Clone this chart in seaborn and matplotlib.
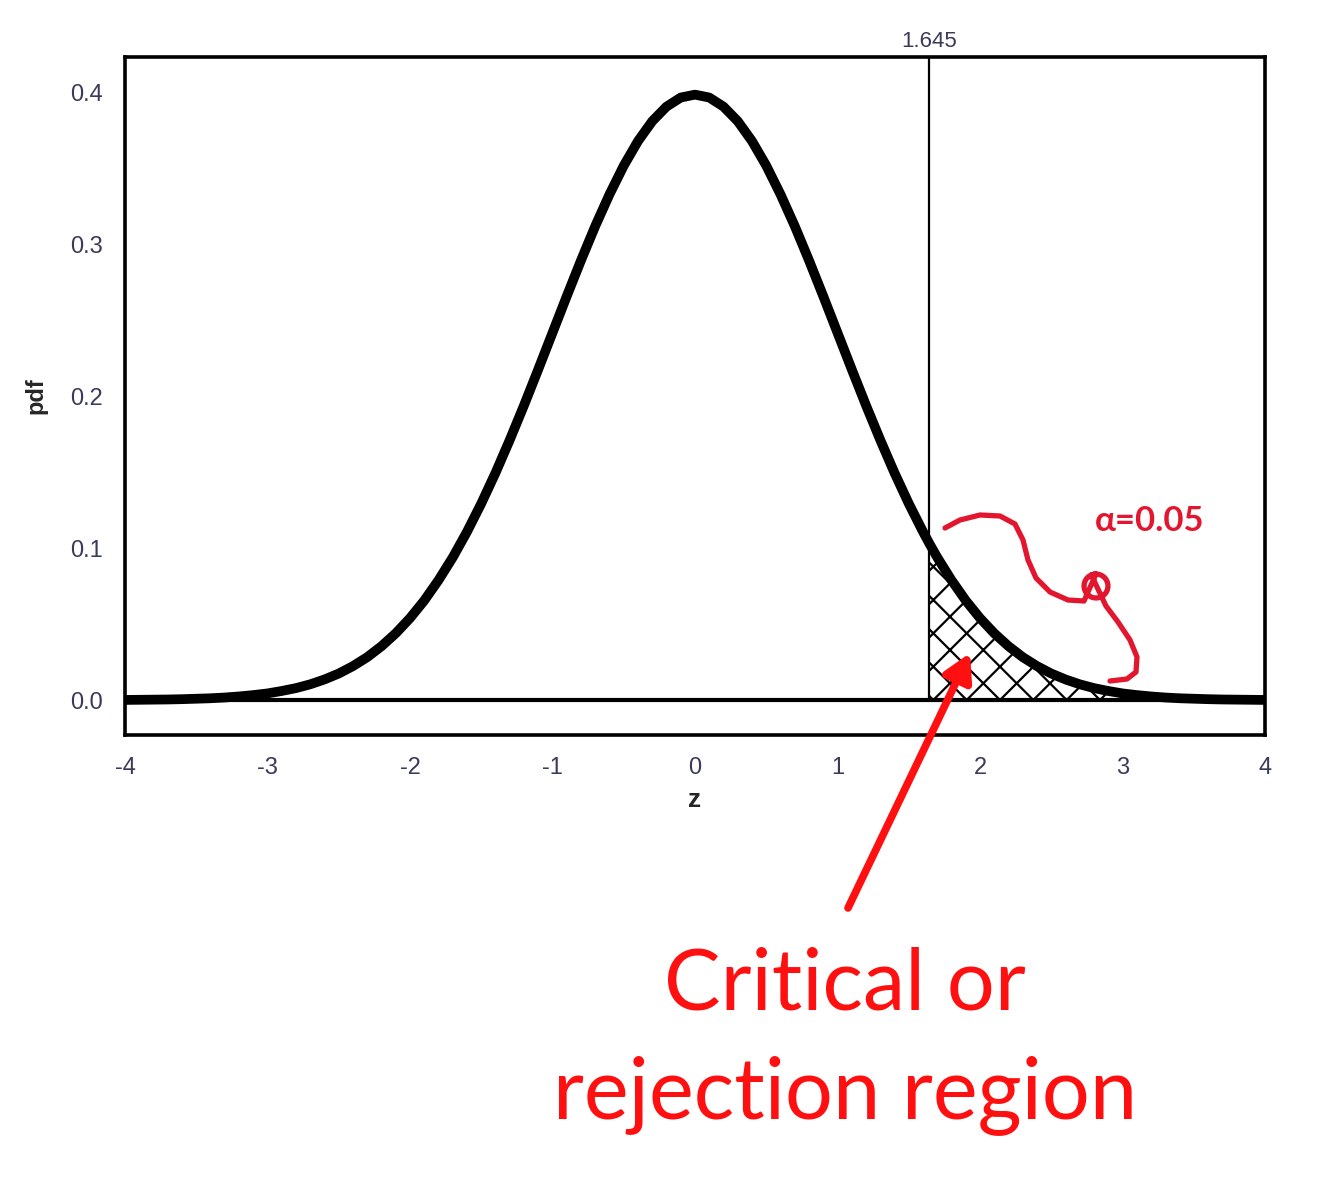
import matplotlib
matplotlib.use("Agg")
import matplotlib.pyplot as plt
import seaborn as sns
import pandas as pd
import numpy as np

# ---- data (standard normal pdf) ----
z_values = [-4.0, -3.9, -3.8, -3.7, -3.6, -3.5, -3.4, -3.3, -3.2, -3.1,
            -3.0, -2.9, -2.8, -2.7, -2.6, -2.5, -2.4, -2.3, -2.2, -2.1,
            -2.0, -1.9, -1.8, -1.7, -1.6, -1.5, -1.4, -1.3, -1.2, -1.1,
            -1.0, -0.9, -0.8, -0.7, -0.6, -0.5, -0.4, -0.3, -0.2, -0.1,
            0.0, 0.1, 0.2, 0.3, 0.4, 0.5, 0.6, 0.7, 0.8, 0.9,
            1.0, 1.1, 1.2, 1.3, 1.4, 1.5, 1.6, 1.645, 1.7, 1.8, 1.9,
            2.0, 2.1, 2.2, 2.3, 2.4, 2.5, 2.6, 2.7, 2.8, 2.9,
            3.0, 3.1, 3.2, 3.3, 3.4, 3.5, 3.6, 3.7, 3.8, 3.9, 4.0]
pdf_values = [0.0001, 0.0002, 0.0003, 0.0004, 0.0006, 0.0009, 0.0012, 0.0017, 0.0024, 0.0033,
              0.0044, 0.0060, 0.0079, 0.0104, 0.0136, 0.0175, 0.0224, 0.0283, 0.0355, 0.0440,
              0.0540, 0.0656, 0.0790, 0.0940, 0.1109, 0.1295, 0.1497, 0.1714, 0.1942, 0.2179,
              0.2420, 0.2661, 0.2897, 0.3123, 0.3332, 0.3521, 0.3683, 0.3814, 0.3910, 0.3970,
              0.3989, 0.3970, 0.3910, 0.3814, 0.3683, 0.3521, 0.3332, 0.3123, 0.2897, 0.2661,
              0.2420, 0.2179, 0.1942, 0.1714, 0.1497, 0.1295, 0.1109, 0.1031, 0.0940, 0.0790, 0.0656,
              0.0540, 0.0440, 0.0355, 0.0283, 0.0224, 0.0175, 0.0136, 0.0104, 0.0079, 0.0060,
              0.0044, 0.0033, 0.0024, 0.0017, 0.0012, 0.0009, 0.0006, 0.0004, 0.0003, 0.0002, 0.0001]
critical_z = 1.645
alpha_label = "α=0.05"
x_ticks = [-4, -3, -2, -1, 0, 1, 2, 3, 4]
y_ticks = [0.0, 0.1, 0.2, 0.3, 0.4]
y_tick_labels = ["0.0", "0.1", "0.2", "0.3", "0.4"]
annotation_lines = ["Critical or", "rejection region"]

df = pd.DataFrame({"z": z_values, "pdf": pdf_values})
tail = df[df["z"] >= critical_z]

sns.set_style("white")
plt.rcParams["font.family"] = ["Liberation Sans", "DejaVu Sans"]
plt.rcParams["hatch.linewidth"] = 1.6

W, H = 1319, 1200
fig = plt.figure(figsize=(W / 100, H / 100), dpi=100)
ax = fig.add_axes([125 / W, 1 - 735 / H, (1265 - 125) / W, (735 - 57) / H])

# rejection region hatch
ax.fill_between(tail["z"], 0, tail["pdf"], facecolor="white", edgecolor="black",
                hatch="x", linewidth=0, zorder=2)
# zero line
ax.axhline(0, color="black", lw=3.0, zorder=3)
# critical line
ax.plot([critical_z, critical_z], [0, 0.4237], color="black", lw=1.6, zorder=3)
# curve
sns.lineplot(data=df, x="z", y="pdf", ax=ax, color="black", lw=7, zorder=4,
             solid_capstyle="butt", estimator=None, sort=False)

ax.set_xlim(-4, 4)
ax.set_ylim(-0.023, 0.4237)
ax.set_xticks(x_ticks)
ax.set_xticklabels([str(t) for t in x_ticks])
ax.set_yticks(y_ticks)
ax.set_yticklabels(y_tick_labels)
ax.tick_params(axis="both", direction="out", length=7, width=2.2, colors="black",
               labelcolor="#3a3a5a", labelsize=17, pad=9)
for s in ax.spines.values():
    s.set_color("black")
    s.set_linewidth(2.6)
    s.set_visible(True)

ax.set_xlabel("z", fontsize=19, fontweight="bold", labelpad=6)
ax.set_ylabel("pdf", fontsize=17, fontweight="bold", labelpad=16)

ax.text(critical_z, 1.008, str(critical_z), transform=ax.get_xaxis_transform(),
        ha="center", va="bottom", fontsize=16, color="#3a3a5a")

# handwritten annotation
pix = [(945, 528), (960, 520), (980, 515), (1000, 516), (1015, 524), (1023, 540),
       (1028, 560), (1036, 578), (1050, 592), (1068, 600), (1084, 601)]
t = np.linspace(-np.pi / 2, 1.5 * np.pi + 0.4, 30)
for tt in t:
    pix.append((1096 + 12 * np.cos(tt + np.pi), 586 - 12 * np.sin(tt + np.pi)))
pix += [(1106, 606), (1118, 622), (1130, 640), (1137, 657), (1136, 672),
        (1127, 679), (1110, 681)]
fx = [p[0] / W for p in pix]
fy = [1 - p[1] / H for p in pix]
fig.add_artist(plt.Line2D(fx, fy, transform=fig.transFigure, color="#e2172f",
                          lw=3.8, solid_capstyle="round", solid_joinstyle="round"))
fig.text(1150 / W, 1 - 521 / H, alpha_label, ha="center", va="center",
         fontsize=25, color="#e2172f", family="Lato", fontweight="bold")

# arrow
ax.annotate("", xy=(1.93, 0.031), xycoords="data",
            xytext=(848 / W, 1 - 908 / H), textcoords="figure fraction",
            arrowprops=dict(arrowstyle="-|>,head_length=1.6,head_width=0.9",
                            color="#ff1010", lw=5.5, shrinkA=0, shrinkB=0))

fig.text(845 / W, 1 - 985 / H, annotation_lines[0], ha="center", va="center",
         fontsize=61, color="#ff1010", family="Lato")
fig.text(845 / W, 1 - 1095 / H, annotation_lines[1], ha="center", va="center",
         fontsize=61, color="#ff1010", family="Lato")

fig.savefig("out.png", dpi=100, facecolor="white")
